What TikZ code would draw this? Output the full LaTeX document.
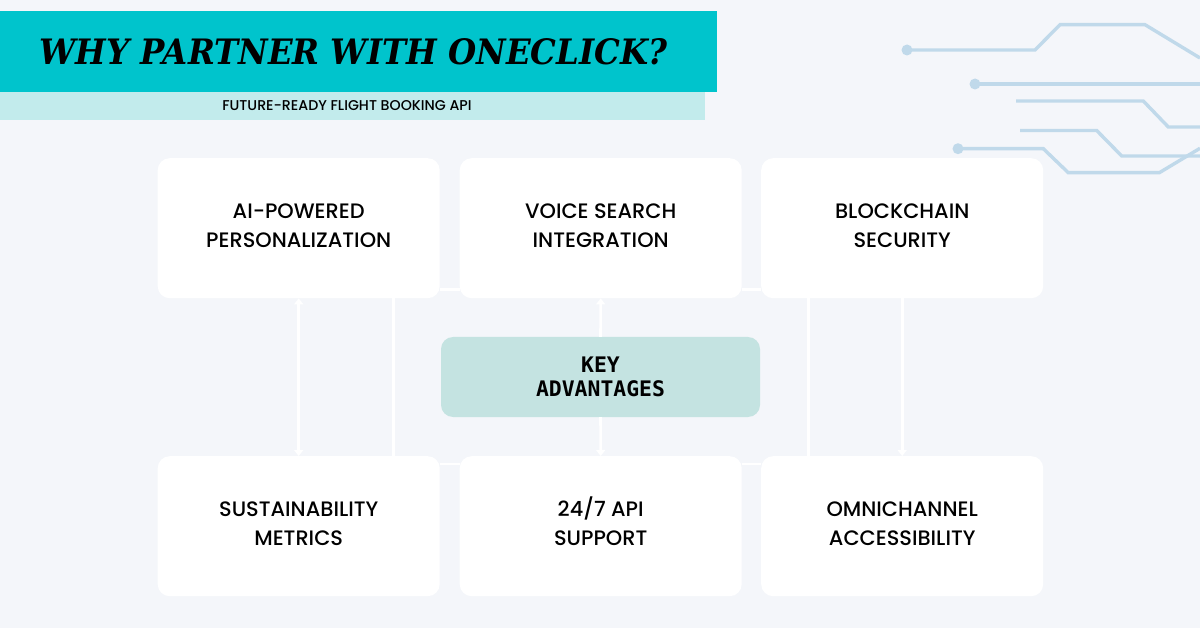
\documentclass[tikz,border=0pt]{standalone}
\usepackage{fontspec}
\usetikzlibrary{arrows.meta}
\setmainfont{Poppins Medium}
\newfontfamily\titlefont[FakeStretch=0.925]{DejaVu Serif}
\newfontfamily\keyfont{DejaVu Sans Mono}
\newcommand{\cardline}[1]{\leavevmode\smash{\raisebox{-4.5pt}{#1}}}
\definecolor{pagebg}{HTML}{F4F6FA}
\definecolor{headbar}{HTML}{00C4CC}
\definecolor{subbar}{HTML}{C2EBEC}
\definecolor{keyfill}{HTML}{C4E3E1}
\definecolor{wire}{HTML}{C0D9EA}
\tikzset{
  x=1pt,y=-1pt,
  card/.style={fill=white,rounded corners=12pt,minimum width=282pt,minimum height=140pt,inner sep=0pt,align=center,text=black,font=\fontsize{20.9}{29}\selectfont,anchor=north west},
  keybox/.style={fill=keyfill,rounded corners=12pt,minimum width=319pt,minimum height=80pt,inner sep=0pt,align=center,text=black,font=\keyfont\bfseries\fontsize{21.4}{24}\selectfont},
  link/.style={draw=white,line width=2.6pt},
  arrowlink/.style={link,-{Triangle[length=6pt,width=9pt,fill=white]}},
  arrowboth/.style={link,{Triangle[length=6pt,width=9pt,fill=white]}-{Triangle[length=6pt,width=9pt,fill=white]}},
  circuit/.style={draw=wire,line width=3.4pt,line join=miter},
  wirecap/.style={circle,fill=wire,minimum size=11pt,inner sep=0pt}
}
\begin{document}
\begin{tikzpicture}
\useasboundingbox (0,0) rectangle (1200,628);
\fill[pagebg] (0,0) rectangle (1200,628);

% circuit decoration
\node[wirecap] (d1) at (907,50) {};
\node[wirecap] (d2) at (975,84) {};
\node[wirecap] (d3) at (958,148.7) {};
\coordinate (e1) at (1200,58);
\coordinate (e2) at (1200,84);
\coordinate (e3) at (1200,127);
\coordinate (e4) at (1200,156);
\coordinate (e5) at (1200,148.3);
\coordinate (s3) at (1016,101);
\coordinate (s4) at (1020,130.5);
\draw[circuit] (d1.center) -- (1035,50) -- (1060,24.7) -- (1145,24.7) -- (e1);
\draw[circuit] (d2.center) -- (e2);
\draw[circuit] (s3) -- (1143.3,101) -- (1168.3,127) -- (e3);
\draw[circuit] (s4) -- (1096.7,130.5) -- (1121.7,156) -- (e4);
\draw[circuit] (d3.center) -- (1043.3,148.7) -- (1068.3,172.7) -- (1159.3,172.7) -- (e5);

% header
\fill[subbar] (0,92) rectangle (705,120);
\fill[headbar] (0,11) rectangle (717,92);
\node[inner sep=0pt,text=black,font=\titlefont\bfseries\itshape\fontsize{35}{40}\selectfont] (title) at (353.5,52) {WHY PARTNER WITH ONECLICK?};
\node[inner sep=0pt,text=black,font=\fontsize{14.2}{16}\selectfont] (sub) at (347,105.5) {FUTURE-READY FLIGHT BOOKING API};

% nodes
\path node[card] (a) at (157.5,158) {\cardline{AI-POWERED}\\\cardline{PERSONALIZATION}}
      node[card] (b) at (459.5,158) {\cardline{VOICE SEARCH}\\\cardline{INTEGRATION}}
      node[card] (c) at (761,158) {\cardline{BLOCKCHAIN}\\\cardline{SECURITY}}
      node[card] (d) at (157.5,456) {\cardline{SUSTAINABILITY}\\\cardline{METRICS}}
      node[card] (e) at (459.5,456) {\cardline{24/7 API}\\\cardline{SUPPORT}}
      node[card] (f) at (761,456) {\cardline{OMNICHANNEL}\\\cardline{ACCESSIBILITY}};
\node[keybox] (k) at (600.5,377) {KEY\\ADVANTAGES};

% connectors
\draw[arrowboth] (a.south) -- (d.north);
\draw[link] ([xshift=95pt]a.south) -- ([xshift=95pt]d.north);
\draw[arrowlink] (k.north) -- (b.south);
\draw[arrowlink] (k.south) -- (e.north);
\draw[link] ([xshift=-94pt]c.south) -- ([xshift=-94pt]f.north);
\draw[arrowlink] (c.south) -- (f.north);
\draw[link] ([yshift=9pt]a.south east) -- ([yshift=9pt]b.south west);
\draw[link] ([yshift=9pt]b.south east) -- ([yshift=9pt]c.south west);
\draw[link] ([yshift=-8pt]d.north east) -- ([yshift=-8pt]e.north west);
\draw[link] ([yshift=-8pt]e.north east) -- ([yshift=-8pt]f.north west);
\end{tikzpicture}
\end{document}
